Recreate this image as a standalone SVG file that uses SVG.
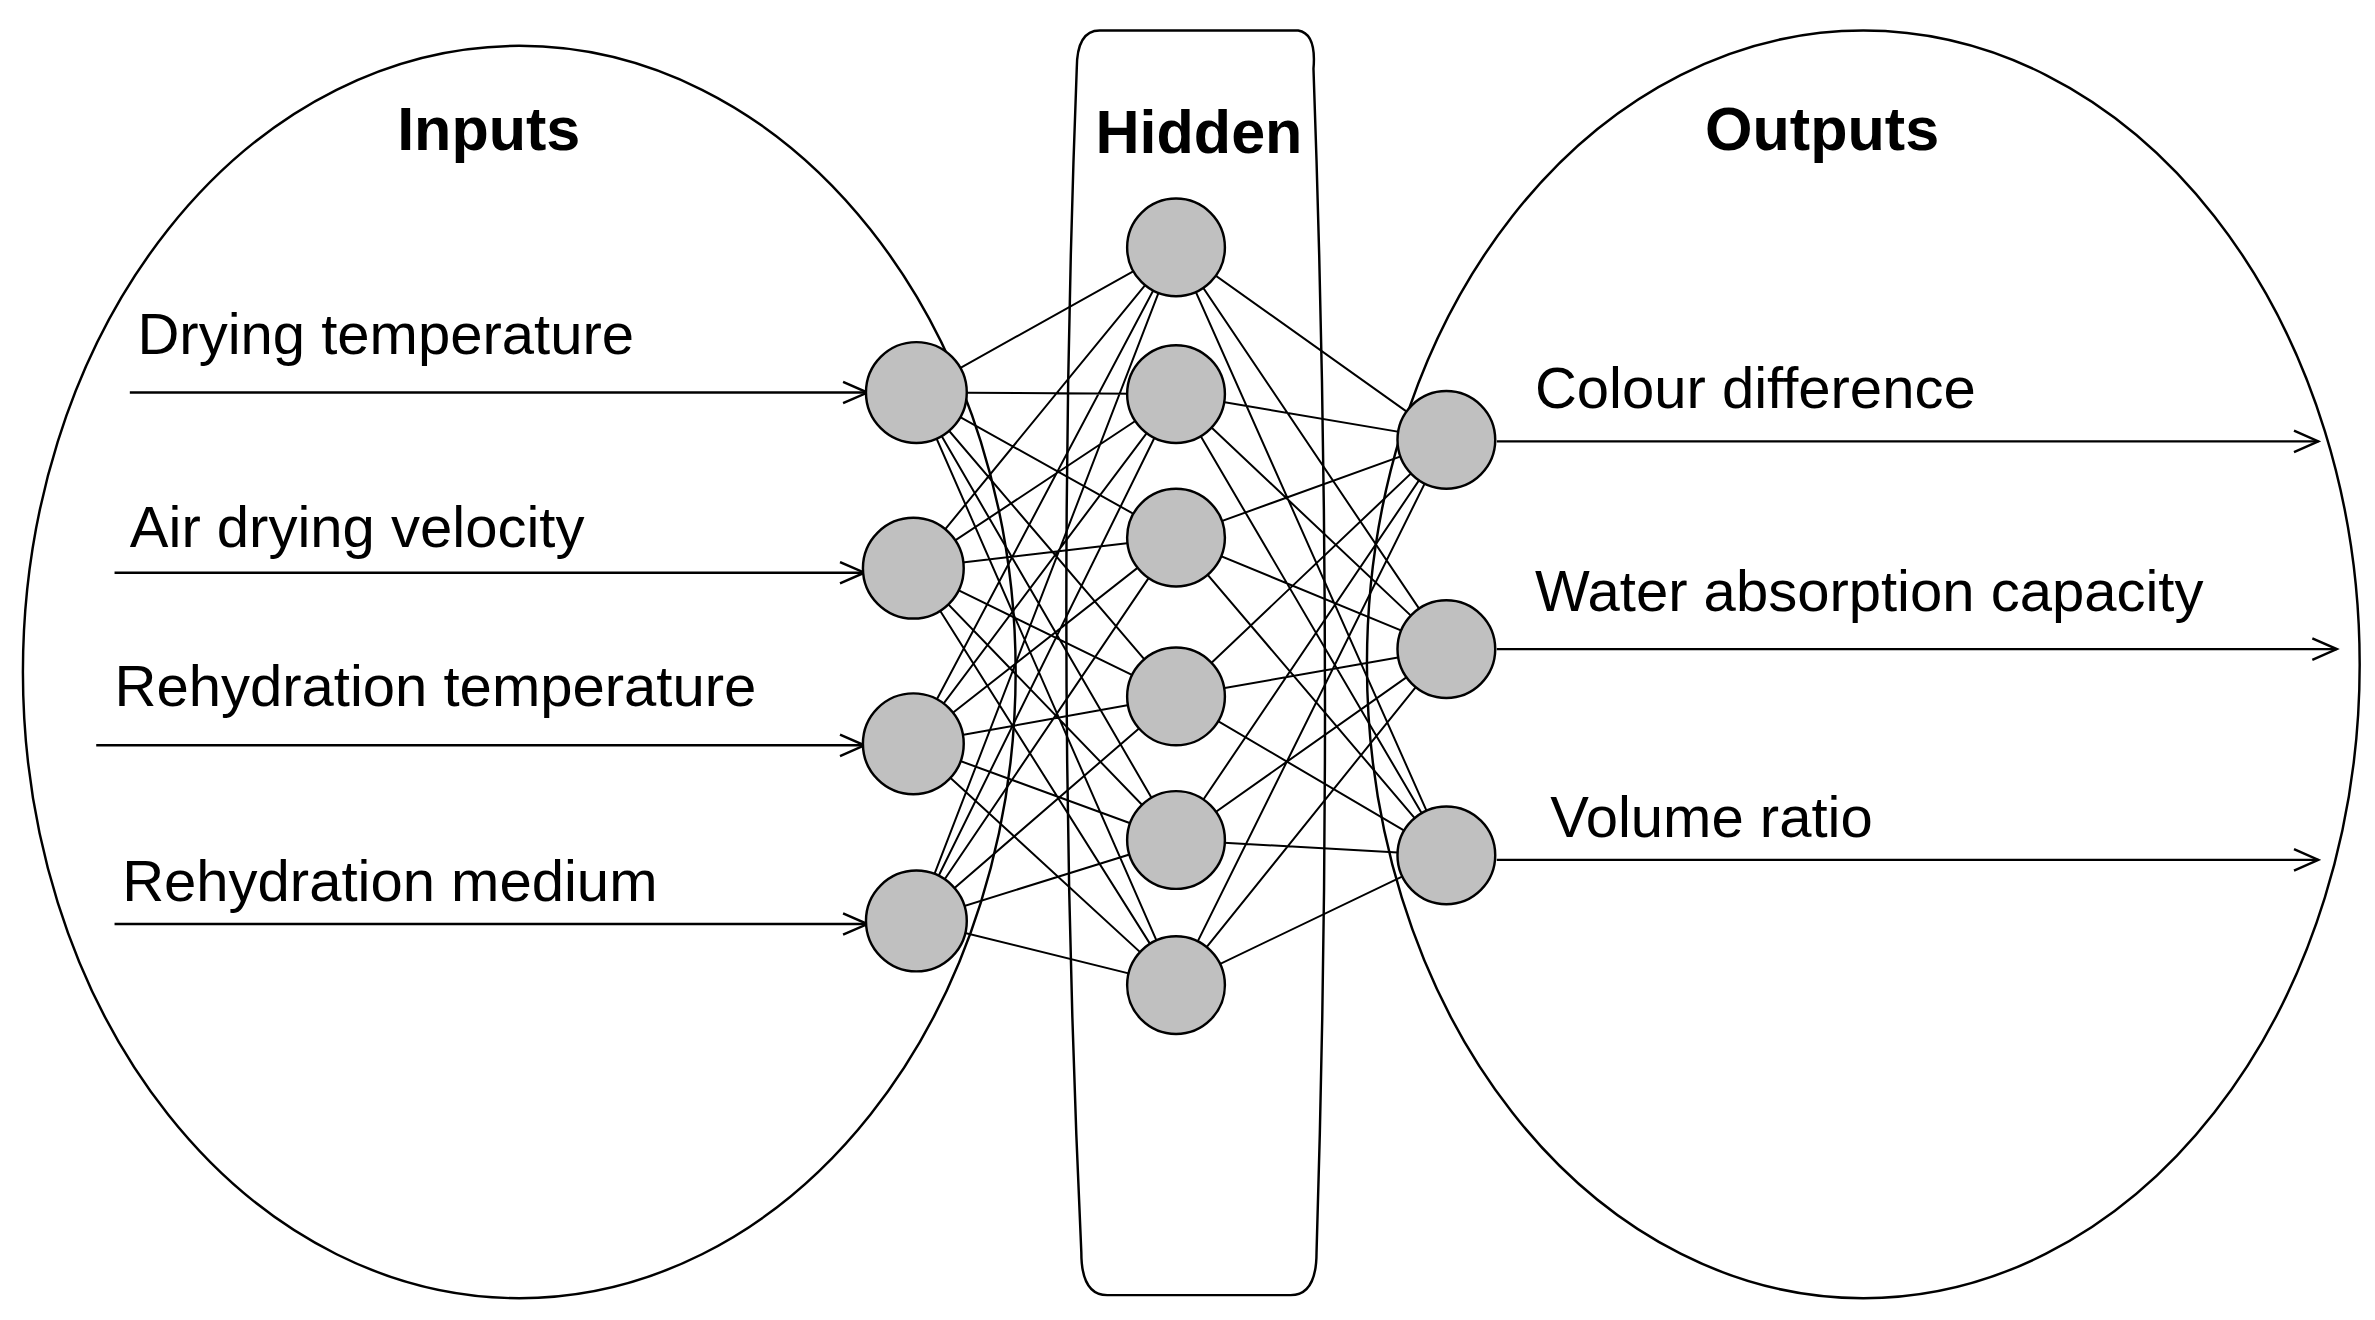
<svg xmlns="http://www.w3.org/2000/svg" width="2375" height="1320" viewBox="0 0 2375 1320">
<style>
.o{fill:none;stroke:#000;stroke-width:1.6}
.c{stroke:#000;stroke-width:1.3}
.n{fill:#c0c0c0;stroke:#000;stroke-width:1.6}
.t{font-family:"Liberation Sans",Arial,sans-serif;font-size:38px;fill:#000}
.h{font-family:"Liberation Sans",Arial,sans-serif;font-size:40px;font-weight:bold;fill:#000;text-anchor:middle}
.a{stroke:#000;stroke-width:1.6;fill:none;marker-end:url(#ar)}
</style>
<defs><marker id="ar" markerWidth="20" markerHeight="16" refX="18" refY="8" orient="auto" markerUnits="userSpaceOnUse"><path d="M2,1 L18,8 L2,15" fill="none" stroke="#000" stroke-width="1.6"/></marker></defs>
<rect width="2375" height="1320" fill="#fff"/>
<g transform="scale(1.5273)">
<g id="groups">
<ellipse class="o" cx="340" cy="440" rx="325" ry="410"/>
<ellipse class="o" cx="1220" cy="435" rx="325" ry="415"/>
<path class="o" d="M720,20 L850,20 Q862,22 860,45 Q874,435 862,820 Q862,848 845,848 L725,848 Q708,848 708,820 Q690,435 705,45 Q705,20 720,20 Z"/>
<text class="h" x="320" y="98">Inputs</text>
<text class="h" x="785" y="100">Hidden</text>
<text class="h" x="1193" y="98">Outputs</text>
</g>
<g id="connectors">
<line class="a" x1="85" y1="257" x2="568" y2="257"/>
<line class="a" x1="75" y1="375" x2="566" y2="375"/>
<line class="a" x1="63" y1="488" x2="566" y2="488"/>
<line class="a" x1="75" y1="605" x2="568" y2="605"/>
<line class="a" x1="980" y1="289" x2="1518" y2="289"/>
<line class="a" x1="980" y1="425" x2="1530" y2="425"/>
<line class="a" x1="980" y1="563" x2="1518" y2="563"/>
<g class="c">
<path d="M600,257L770,162M600,257L770,258M600,257L770,352M600,257L770,456M600,257L770,550M600,257L770,645
M598,372L770,162M598,372L770,258M598,372L770,352M598,372L770,456M598,372L770,550M598,372L770,645
M598,487L770,162M598,487L770,258M598,487L770,352M598,487L770,456M598,487L770,550M598,487L770,645
M600,603L770,162M600,603L770,258M600,603L770,352M600,603L770,456M600,603L770,550M600,603L770,645
M770,162L947,288M770,162L947,425M770,162L947,560
M770,258L947,288M770,258L947,425M770,258L947,560
M770,352L947,288M770,352L947,425M770,352L947,560
M770,456L947,288M770,456L947,425M770,456L947,560
M770,550L947,288M770,550L947,425M770,550L947,560
M770,645L947,288M770,645L947,425M770,645L947,560"/>
</g>
</g>
<g id="inputs">
<circle class="n" cx="600" cy="257" r="33"/><circle class="n" cx="598" cy="372" r="33"/>
<circle class="n" cx="598" cy="487" r="33"/><circle class="n" cx="600" cy="603" r="33"/>
<text class="t" x="90" y="232">Drying temperature</text>
<text class="t" x="85" y="358">Air drying velocity</text>
<text class="t" x="75" y="462">Rehydration temperature</text>
<text class="t" x="80" y="590">Rehydration medium</text>
</g>
<g id="hidden">
<circle class="n" cx="770" cy="162" r="32"/><circle class="n" cx="770" cy="258" r="32"/>
<circle class="n" cx="770" cy="352" r="32"/><circle class="n" cx="770" cy="456" r="32"/>
<circle class="n" cx="770" cy="550" r="32"/><circle class="n" cx="770" cy="645" r="32"/>
</g>
<g id="outputs">
<circle class="n" cx="947" cy="288" r="32"/><circle class="n" cx="947" cy="425" r="32"/><circle class="n" cx="947" cy="560" r="32"/>
<text class="t" x="1005" y="267">Colour difference</text>
<text class="t" x="1005" y="400">Water absorption capacity</text>
<text class="t" x="1015" y="548">Volume ratio</text>
</g>
</g>
</svg>
